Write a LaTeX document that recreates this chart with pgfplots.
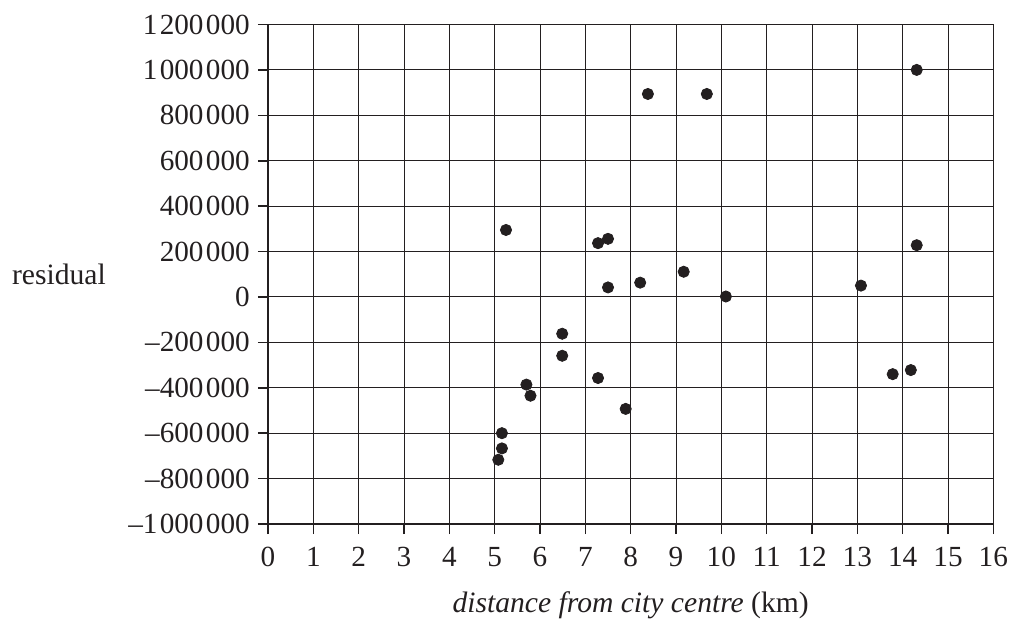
\documentclass[border=0pt]{standalone}
\usepackage{pgfplots}
\pgfplotsset{compat=1.18}
\usepackage{fontspec}
\setmainfont{Liberation Serif}
\definecolor{ink}{HTML}{231F20}
\newcommand{\tk}{\kern0.08em}
\begin{document}
\begin{tikzpicture}
\useasboundingbox (-134pt,-49pt) rectangle (371.5pt,262pt);
\begin{axis}[
  at={(0,0)}, anchor=south west,
  scale only axis,
  width=362.67pt, height=249.75pt,
  xmin=0, xmax=16, ymin=-1000000, ymax=1200000,
  xtick={0,1,...,16},
  xticklabels={0,1,2,3,4,5,6,7,8,9,10,11,12,13,14,15,16},
  ytick={-1000000,-800000,-600000,-400000,-200000,0,200000,400000,600000,800000,1000000,1200000},
  yticklabels={\textendash1\tk000\tk000,\textendash800\tk000,\textendash600\tk000,\textendash400\tk000,\textendash200\tk000,0,200\tk000,400\tk000,600\tk000,800\tk000,1\tk000\tk000,1\tk200\tk000},
  scaled y ticks=false,
  xtick pos=bottom, ytick pos=left,
  tick align=outside,
  major tick length=5pt,
  every tick/.style={ink, line width=0.8pt},
  grid=major,
  major grid style={ink, line width=0.5pt},
  axis line style={ink, line width=0.6pt},
  tick label style={ink, font=\fontsize{14.6pt}{17pt}\selectfont},
  yticklabel style={xshift=-0.6pt},
  xticklabel style={yshift=-3pt},
  label style={ink, font=\fontsize{14.8pt}{17pt}\selectfont, inner sep=0pt},
  xlabel={\textit{distance from city centre} (km)},
  xlabel style={at={(axis description cs:0.5,-0.1772)}, anchor=base},
  ylabel={residual},
  ylabel style={rotate=-90, at={(axis description cs:-0.3534,0.4785)}, anchor=base west},
]
\addplot[only marks, mark=*, mark size=2.8pt, mark options={fill=ink, draw=ink}] coordinates {
(5.25,295000) (7.28,237000) (7.5,256000) (9.17,111000) (7.5,42000)
(8.21,63000) (10.1,2000) (6.49,-162000) (6.49,-259000) (7.28,-357000)
(5.70,-386000) (5.79,-435000) (7.89,-493000) (5.16,-600000) (5.16,-667000)
(5.08,-717000) (14.31,1000000) (14.31,228000) (13.08,50000) (13.78,-340000)
(14.18,-322000) (8.38,894000) (9.68,894000)
};
\end{axis}
\end{tikzpicture}
\end{document}
